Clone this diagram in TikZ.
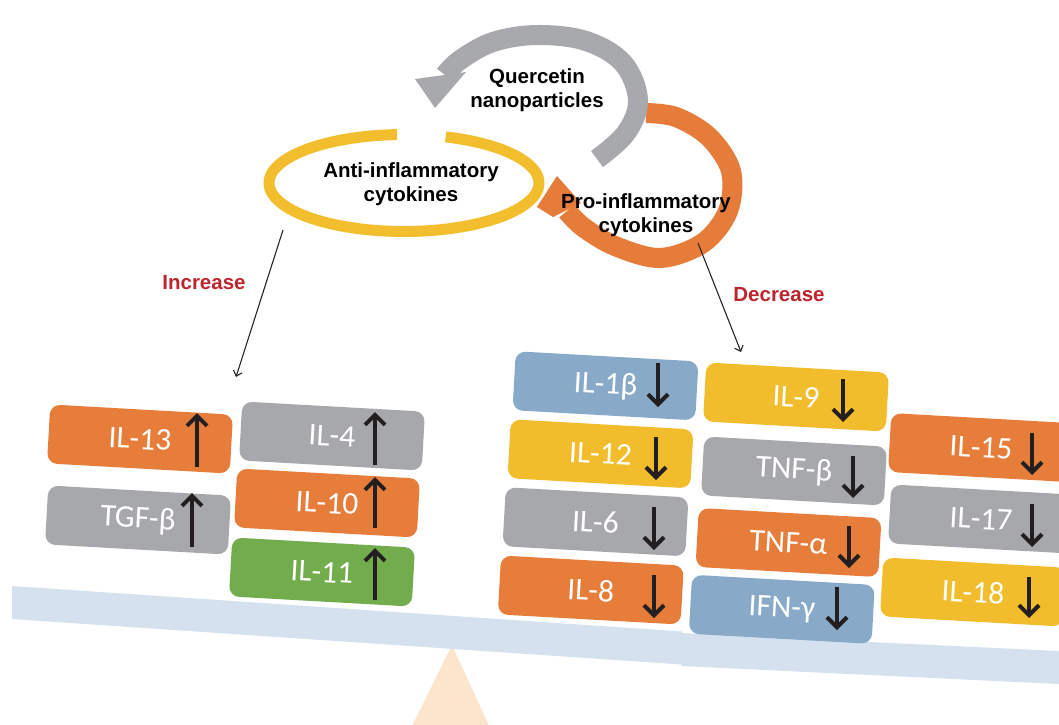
\documentclass[tikz,border=0pt]{standalone}
\usepackage{fontspec}
\setmainfont{Liberation Sans}
\newfontfamily\calib{Carlito}
\usetikzlibrary{arrows.meta}
\definecolor{cOrange}{HTML}{E67D3B}
\definecolor{cGray}{HTML}{A6A8AB}
\definecolor{cYellow}{HTML}{F2BD2C}
\definecolor{cBlue}{HTML}{88A9C7}
\definecolor{cGreen}{HTML}{73AC4D}
\definecolor{cBeam}{HTML}{D5E1EF}
\definecolor{cPeach}{HTML}{FCE5CD}
\definecolor{cInk}{HTML}{231F20}
\definecolor{cRed}{HTML}{BE242B}
\definecolor{cYRing}{HTML}{F3BE2D}
\definecolor{cGRing}{HTML}{A7A9AC}
\definecolor{cORing}{HTML}{E67C3A}
\begin{document}
\begin{tikzpicture}[x=1pt,y=-1pt,
  cyto/.style={rectangle, rounded corners=10pt, minimum width=183pt, minimum height=59pt,
    inner sep=0pt, rotate=-3.2, text=white, font=\calib\fontsize{31.5}{36}\selectfont},
  upar/.style={line width=4pt, draw=cInk, -{Straight Barb[length=10pt,width=20pt]}},
  title/.style={align=center, text=black, font=\bfseries\fontsize{20.5}{24}\selectfont, inner sep=0pt},
  lab/.style={text=cRed, font=\bfseries\fontsize{20.5}{24}\selectfont, inner sep=0pt},
  thinar/.style={line width=1.1pt, draw=black!85, -{Straight Barb[length=5pt,width=9pt]}}
]
\useasboundingbox (0,0) rectangle (1059,724);
\clip (0,0) rectangle (1059,724);
\fill[white] (0,0) rectangle (1059,724);

% fulcrum and beam
\fill[cPeach] (452,645) -- (410,730) -- (491,730) -- cycle;
\fill[cBeam] (12,586) -- (682,631.5) -- (682,664.5) -- (12,619) -- cycle;
\fill[cBeam] (681,633) -- (1059,651) -- (1059,684) -- (681,666) -- cycle;

% anti-inflammatory side
\node[cyto, fill=cOrange] (il13) at (140,439) {IL-13};
\node[cyto, fill=cGray]   (il4)  at (332,436) {IL-4};
\node[cyto, fill=cGray]   (tgfb) at (138,520) {TGF-β};
\node[cyto, fill=cOrange] (il10) at (327,503) {IL-10};
\node[cyto, fill=cGreen]  (il11) at (322,572) {IL-11};
\draw[upar] (197,467) -- (197,413);
\draw[upar] (375,465) -- (375,412);
\draw[upar] (192,547) -- (192,493);
\draw[upar] (375,528) -- (375,477);
\draw[upar] (375,600) -- (375,548);

% pro-inflammatory side
\node[cyto, fill=cBlue]   (il1b) at (605.5,385.8) {IL-1β};
\node[cyto, fill=cYellow] (il12) at (600.5,453.8) {IL-12};
\node[cyto, fill=cGray]   (il6)  at (595.5,521.8) {IL-6};
\node[cyto, fill=cOrange] (il8)  at (590.8,590) {IL-8};
\node[cyto, fill=cYellow] (il9)  at (796,397) {IL-9};
\node[cyto, fill=cGray]   (tnfb) at (794,471) {TNF-β};
\node[cyto, fill=cOrange] (tnfa) at (788.5,542.5) {TNF-α};
\node[cyto, fill=cBlue]   (ifng) at (781.8,609.3) {IFN-γ};
\node[cyto, fill=cOrange] (il15) at (981,447.6) {IL-15};
\node[cyto, fill=cGray]   (il17) at (981,519) {IL-17};
\node[cyto, fill=cYellow] (il18) at (973,592) {IL-18};
\draw[upar] (658,363) -- (658,407);
\draw[upar] (656,437) -- (656,480);
\draw[upar] (654,507) -- (654,550);
\draw[upar] (654,575) -- (654,618);
\draw[upar] (843,379) -- (843,422);
\draw[upar] (853,456) -- (853,498);
\draw[upar] (849,526) -- (849,568);
\draw[upar] (837,587) -- (837,630);
\draw[upar] (1032,433) -- (1032,475);
\draw[upar] (1032,504) -- (1032,547);
\draw[upar] (1029,577) -- (1029,618);

% cycle
\draw[cYRing, line width=11pt] plot[domain=-72:267, samples=120] ({404+135*cos(\x)},{183+48.5*sin(\x)});
\draw[cORing, line width=20pt] plot[smooth, tension=0.55] coordinates {(646,113) (676,117) (709,137) (731,171) (728,211) (703,243) (660,258) (615,246) (583,227) (567,211)};
\fill[cORing] (537,207) -- (557,176) -- (581,203) -- (553,217) -- cycle;
\draw[cGRing, line width=20pt] plot[smooth, tension=0.6] coordinates {(597,159) (626,133) (638,100) (623,63) (586,41) (537,35) (493,42) (460,60) (445,75)};
\fill[cGRing] (415,79) -- (466,72) -- (435,108) -- cycle;

\node[title] (qnp)  at (537,90)  {Quercetin\\nanoparticles};
\node[title] (anti) at (411,184) {Anti-inflammatory\\cytokines};
\node[title] (pro)  at (646,215) {Pro-inflammatory\\cytokines};

\node[lab] (inc) at (204,283) {Increase};
\node[lab] (dec) at (779,295) {Decrease};
\coordinate (incS) at (283,230);
\coordinate (incE) at (236,377);
\coordinate (decS) at (698,243);
\coordinate (decE) at (741,352);
\draw[thinar] (incS) -- (incE);
\draw[thinar] (decS) -- (decE);
\end{tikzpicture}
\end{document}
